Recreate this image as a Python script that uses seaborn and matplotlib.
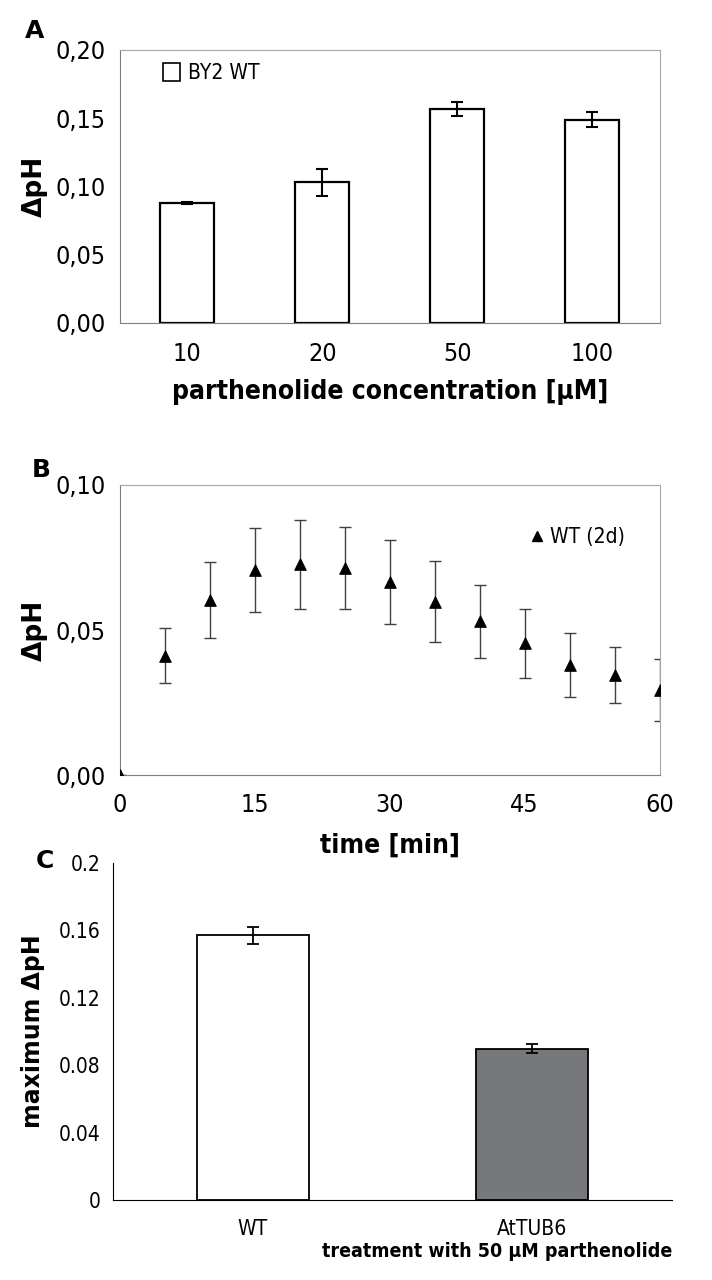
import matplotlib
matplotlib.use("Agg")
import matplotlib.pyplot as plt
import seaborn as sns
import pandas as pd
from matplotlib.lines import Line2D
from matplotlib.patches import Patch

# %% data read off the figure %%
# A: delta pH vs parthenolide concentration
conc = ["10", "20", "50", "100"]
dph_a = [0.0876, 0.103, 0.157, 0.149]
err_a = [0.0007, 0.0097, 0.0052, 0.0053]
yticks_a = [0.0, 0.05, 0.10, 0.15, 0.20]
ylabels_a = ["0,00", "0,05", "0,10", "0,15", "0,20"]

# B: time course WT (2d)
time_b = [0, 5, 10, 15, 20, 25, 30, 35, 40, 45, 50, 55, 60]
dph_b = [0.0, 0.0411, 0.0604, 0.0706, 0.0726, 0.0714, 0.0666, 0.0598, 0.053, 0.0454, 0.038, 0.0344, 0.0293]
err_b = [0.0, 0.0095, 0.013, 0.0144, 0.0153, 0.0142, 0.0145, 0.014, 0.0126, 0.012, 0.011, 0.0097, 0.0107]
xticks_b = [0, 15, 30, 45, 60]
yticks_b = [0.0, 0.05, 0.10]
ylabels_b = ["0,00", "0,05", "0,10"]

# C: maximum delta pH, 50 uM parthenolide
lines_c = ["WT", "AtTUB6"]
dph_c = [0.157, 0.0897]
err_c = [0.0052, 0.0027]
yticks_c = [0, 0.04, 0.08, 0.12, 0.16, 0.2]
ylabels_c = ["0", "0.04", "0.08", "0.12", "0.16", "0.2"]

sns.set_style("white")
plt.rcParams["font.family"] = ["DejaVu Sans"]
plt.rcParams["font.stretch"] = "condensed"
plt.rcParams["text.color"] = "black"
plt.rcParams["axes.labelcolor"] = "black"
plt.rcParams["xtick.color"] = "black"
plt.rcParams["ytick.color"] = "black"

fig = plt.figure(figsize=(7.12, 12.8), dpi=100)

frame_gray = "#a6a6a6"
axis_gray = "#7f7f7f"

# %% panel A %%
ax_a = fig.add_axes([0.1685, 0.7477, 0.758, 0.2133])
df_a = pd.DataFrame({"conc": conc, "dph": dph_a})
sns.barplot(data=df_a, x="conc", y="dph", order=conc, color="white",
            edgecolor="black", linewidth=1.6, width=0.4, errorbar=None, ax=ax_a)
ax_a.errorbar(range(len(conc)), dph_a, yerr=err_a, fmt="none", ecolor="black",
              elinewidth=1.5, capsize=4, capthick=1.5)
ax_a.set_xlim(-0.5, len(conc) - 0.5)
ax_a.set_ylim(0, 0.2)
ax_a.set_yticks(yticks_a)
ax_a.set_yticklabels(ylabels_a)
ax_a.set_xticks([i - 0.5 for i in range(len(conc) + 1)])
ax_a.set_xticklabels([])
ax_a.set_xticks(range(len(conc)), minor=True)
ax_a.set_xticklabels(conc, minor=True)
ax_a.tick_params(axis="x", which="major", length=9, width=1, color=axis_gray, direction="out")
ax_a.tick_params(axis="x", which="minor", length=0, pad=14, labelsize=18)
ax_a.tick_params(axis="y", length=7, width=1, color=axis_gray, direction="out", labelsize=18, pad=3)
ax_a.set_xlabel("parthenolide concentration [µM]", fontsize=19, fontweight="bold", labelpad=9)
ax_a.set_ylabel("ΔpH", fontsize=19, fontweight="bold", fontstretch="normal", labelpad=6)
for side in ["top", "right"]:
    ax_a.spines[side].set_color(frame_gray)
for side in ["left", "bottom"]:
    ax_a.spines[side].set_color(axis_gray)
ax_a.legend(handles=[Patch(facecolor="white", edgecolor="black", linewidth=1.2, label="BY2 WT")],
            loc="upper left", bbox_to_anchor=(0.045, 1.02), frameon=False, fontsize=15,
            handlelength=0.8, handleheight=0.9, handletextpad=0.4)
fig.text(0.035, 0.97, "A", fontsize=18, fontweight="bold", fontstretch="normal")

# %% panel B %%
ax_b = fig.add_axes([0.1685, 0.3945, 0.758, 0.2266])
df_b = pd.DataFrame({"time": time_b, "dph": dph_b})
ax_b.errorbar(time_b, dph_b, yerr=err_b, fmt="none", ecolor="#404040",
              elinewidth=1.0, capsize=4, capthick=1.0)
sns.scatterplot(data=df_b, x="time", y="dph", marker="^", color="black", s=70,
                edgecolor="black", ax=ax_b, zorder=3)
ax_b.set_xlim(0, 60)
ax_b.set_ylim(0, 0.1)
ax_b.set_xticks(xticks_b)
ax_b.set_yticks(yticks_b)
ax_b.set_yticklabels(ylabels_b)
ax_b.tick_params(axis="x", length=7, width=1, color=axis_gray, direction="out", labelsize=18, pad=6)
ax_b.tick_params(axis="y", length=7, width=1, color=axis_gray, direction="out", labelsize=18, pad=3)
ax_b.set_xlabel("time [min]", fontsize=19, fontweight="bold", labelpad=11)
ax_b.set_ylabel("ΔpH", fontsize=19, fontweight="bold", fontstretch="normal", labelpad=6)
for side in ["top", "right"]:
    ax_b.spines[side].set_color(frame_gray)
for side in ["left", "bottom"]:
    ax_b.spines[side].set_color(axis_gray)
ax_b.legend(handles=[Line2D([], [], marker="^", color="black", linestyle="none",
                            markersize=7, label="WT (2d)")],
            loc="upper right", bbox_to_anchor=(0.97, 0.92), frameon=False, fontsize=15,
            handlelength=0.6, handletextpad=0.3)
fig.text(0.045, 0.627, "B", fontsize=18, fontweight="bold", fontstretch="normal")

# %% panel C %%
ax_c = fig.add_axes([0.1587, 0.0625, 0.785, 0.2633])
df_c = pd.DataFrame({"line": lines_c, "dph": dph_c})
sns.barplot(data=df_c, x="line", y="dph", order=lines_c, hue="line",
            palette=["white", "#77787b"], edgecolor="black", linewidth=1.3,
            width=0.4, errorbar=None, legend=False, ax=ax_c)
ax_c.errorbar(range(len(lines_c)), dph_c, yerr=err_c, fmt="none", ecolor="black",
              elinewidth=1.3, capsize=4, capthick=1.3)
ax_c.set_xlim(-0.5, len(lines_c) - 0.5)
ax_c.set_ylim(0, 0.2)
ax_c.set_yticks(yticks_c)
ax_c.set_yticklabels(ylabels_c)
ax_c.set_xticks([i - 0.5 for i in range(len(lines_c) + 1)])
ax_c.set_xticklabels([])
ax_c.set_xticks(range(len(lines_c)), minor=True)
ax_c.set_xticklabels(lines_c, minor=True)
ax_c.tick_params(axis="x", which="major", length=8, width=1, color="black", direction="out")
ax_c.tick_params(axis="x", which="minor", length=0, pad=14, labelsize=15)
ax_c.tick_params(axis="y", length=6, width=1, color="black", direction="out", labelsize=15, pad=3)
ax_c.set_xlabel("treatment with 50 µM parthenolide", fontsize=14, fontweight="bold",
                loc="right", labelpad=2)
ax_c.set_ylabel("maximum ΔpH", fontsize=17, fontweight="bold", fontstretch="normal", labelpad=10)
sns.despine(ax=ax_c)
ax_c.spines["left"].set_color("black")
ax_c.spines["bottom"].set_color("black")
fig.text(0.05, 0.322, "C", fontsize=18, fontweight="bold", fontstretch="normal")

fig.savefig("out.png", dpi=100)
